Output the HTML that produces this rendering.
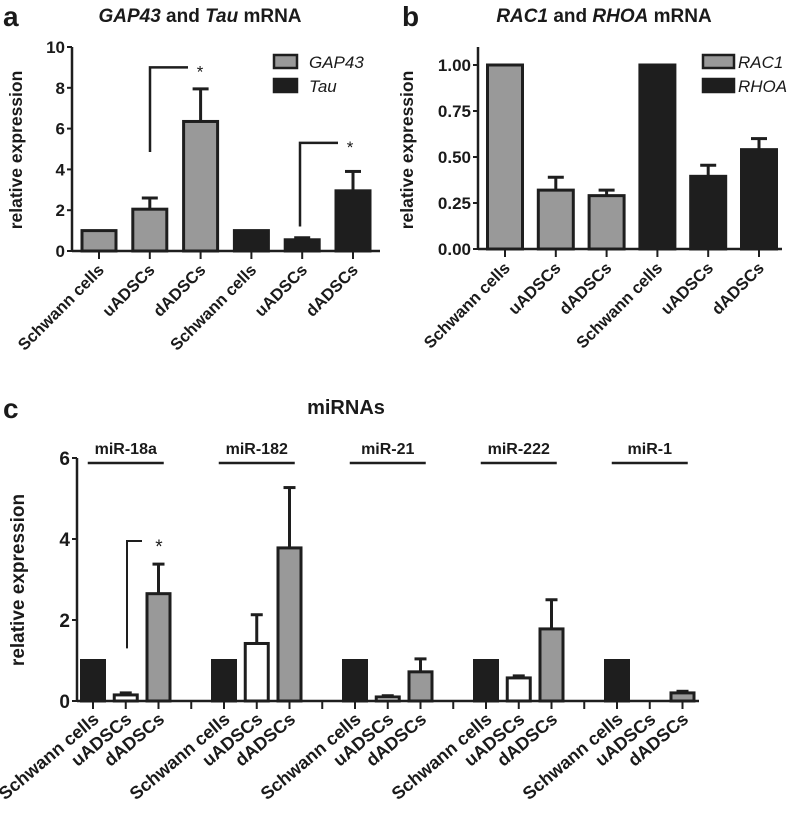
<!DOCTYPE html>
<html><head><meta charset="utf-8"><style>
body{margin:0;background:#fff}
svg text{font-family:"Liberation Sans",Arial,sans-serif;fill:#1a1a1a}
</style></head><body>
<svg id="fig" width="787" height="816" xmlns="http://www.w3.org/2000/svg"></svg>
<script>
// Panel a data
const aCats = ["Schwann cells","uADSCs","dADSCs","Schwann cells","uADSCs","dADSCs"];
const aVals = [1, 2.05, 6.35, 1, 0.55, 2.95];
const aErr  = [null, 2.6, 7.95, null, 0.65, 3.9];
const aTicks = [0,2,4,6,8,10];
// Panel b data
const bCats = ["Schwann cells","uADSCs","dADSCs","Schwann cells","uADSCs","dADSCs"];
const bVals = [1, 0.32, 0.29, 1, 0.395, 0.54];
const bErr  = [null, 0.39, 0.32, null, 0.455, 0.60];
const bTicks = ["0.00","0.25","0.50","0.75","1.00"];
// Panel c data
const cGroups = ["miR-18a","miR-182","miR-21","miR-222","miR-1"];
const cCats = ["Schwann cells","uADSCs","dADSCs"];
const cVals = [[1,0.15,2.65],[1,1.42,3.78],[1,0.1,0.72],[1,0.57,1.78],[1,0,0.2]];
const cErr  = [[null,0.2,3.38],[null,2.13,5.27],[null,0.13,1.04],[null,0.62,2.5],[null,null,0.24]];
const cTicks = [0,2,4,6];

const svg = document.getElementById('fig');
const NS = "http://www.w3.org/2000/svg";
function el(tag, attrs, parent){
  const e = document.createElementNS(NS, tag);
  for (const k in attrs) e.setAttribute(k, attrs[k]);
  (parent||svg).appendChild(e);
  return e;
}
function txt(x,y,s,size,extra,weight){
  const t = el('text', Object.assign({x:x,y:y,'font-size':size,style:'font-weight:'+(weight||'bold')}, extra||{}));
  t.textContent = s; return t;
}
const DARK="#1e1e1e", GRAY="#999999";

function barChart(o){
  const y = v => o.y0 - (v - 0) * o.ppu;
  const ax = el('line',{x1:o.ax,y1:o.yTop,x2:o.ax,y2:o.y0+1,stroke:DARK,'stroke-width':2.5});
  
  
  const xax = el('line',{x1:o.ax,y1:o.y0,x2:o.xEnd,y2:o.y0,stroke:DARK,'stroke-width':2.5});
  
  
  o.ticks.forEach(t=>{
    const v = parseFloat(t);
    el('line',{x1:o.ax-5,y1:y(v),x2:o.ax,y2:y(v),stroke:DARK,'stroke-width':2});
    const tl = txt(o.ax-7,y(v)+6,String(t),17,{'text-anchor':'end'});
    
    
  });
  o.vals.forEach((v,i)=>{
    const cx = o.x0 + i*o.step;
    el('line',{x1:cx,y1:o.y0,x2:cx,y2:o.y0+8,stroke:DARK,'stroke-width':2});
    const fill = i<3 ? GRAY : DARK;
    const r = el('rect',{x:cx-o.bw/2,y:y(v),width:o.bw,height:o.y0-y(v),fill:fill,stroke:DARK,'stroke-width':3});
    
    
    if (o.err[i]!=null){
      el('line',{x1:cx,y1:y(v),x2:cx,y2:y(o.err[i]),stroke:DARK,'stroke-width':3});
      el('line',{x1:cx-8,y1:y(o.err[i]),x2:cx+8,y2:y(o.err[i]),stroke:DARK,'stroke-width':3});
    }
    const lab = txt(0,0,o.cats[i],16.5,{'text-anchor':'end',transform:`translate(${cx+6},${o.y0+20}) rotate(-45)`});
    
    
  });
  return y;
}

// Panel a
txt(3,26,"a",28);
const ta = txt(200,22,"",19,{'text-anchor':'middle'});
ta.innerHTML = '<tspan font-style="italic">GAP43</tspan> and <tspan font-style="italic">Tau</tspan> mRNA';

txt(0,0,"relative expression",17.5,{'text-anchor':'middle',transform:'translate(22,150) rotate(-90)'});
const ya = barChart({id:'panel-a',ax:72,yTop:47,y0:251,ppu:20.4,xEnd:380,x0:99,step:50.8,bw:34,vals:aVals,err:aErr,cats:aCats,ticks:aTicks});
el('polyline',{points:`150,${ya(4.85)} 150,${ya(9)} 188,${ya(9)}`,fill:'none',stroke:DARK,'stroke-width':2.5});
txt(200,ya(9)+10,"*",17,{'text-anchor':'middle'},'normal');
el('polyline',{points:`300,${ya(1.2)} 300,${ya(5.3)} 338,${ya(5.3)}`,fill:'none',stroke:DARK,'stroke-width':2.5});
txt(350,ya(5.3)+10,"*",17,{'text-anchor':'middle'},'normal');
el('rect',{x:274,y:55,width:23,height:13,fill:GRAY,stroke:DARK,'stroke-width':2.5});
el('rect',{x:274,y:79,width:23,height:13,fill:DARK,stroke:DARK,'stroke-width':2.5});
txt(309,68,"GAP43",17,{'font-style':'italic'},'normal');
txt(309,92,"Tau",17,{'font-style':'italic'},'normal');

// Panel b
txt(402,26,"b",28);
const tb = txt(604,22,"",19,{'text-anchor':'middle'});
tb.innerHTML = '<tspan font-style="italic">RAC1</tspan> and <tspan font-style="italic">RHOA</tspan> mRNA';

txt(0,0,"relative expression",17.5,{'text-anchor':'middle',transform:'translate(413,150) rotate(-90)'});
barChart({id:'panel-b',ax:478,yTop:47,y0:249,ppu:184,xEnd:782,x0:505,step:50.8,bw:35,vals:bVals,err:bErr,cats:bCats,ticks:bTicks});
el('rect',{x:703,y:55,width:31,height:13,fill:GRAY,stroke:DARK,'stroke-width':2.5});
el('rect',{x:703,y:79,width:31,height:13,fill:DARK,stroke:DARK,'stroke-width':2.5});
txt(738,68,"RAC1",17,{'font-style':'italic'},'normal');
txt(738,92,"RHOA",17,{'font-style':'italic'},'normal');

// Panel c
txt(3,418,"c",28);
txt(346,414,"miRNAs",20,{'text-anchor':'middle'});
txt(0,0,"relative expression",19,{'text-anchor':'middle',transform:'translate(24,580) rotate(-90)'});
const cy0=701, cppu=40.5, cx0=93, cstep=32.75;
const yc = v => cy0 - v*cppu;
el('line',{x1:77,y1:458,x2:77,y2:cy0+1,stroke:DARK,'stroke-width':2.5});
el('line',{x1:77,y1:cy0,x2:699,y2:cy0,stroke:DARK,'stroke-width':2.5});
cTicks.forEach(t=>{
  el('line',{x1:72,y1:yc(t),x2:77,y2:yc(t),stroke:DARK,'stroke-width':2});
  txt(70,yc(t)+7,String(t),19,{'text-anchor':'end'});
});
for (let k=0;k<19;k++){
  const x = cx0 + k*cstep;
  el('line',{x1:x,y1:cy0,x2:x,y2:cy0+8,stroke:DARK,'stroke-width':2});
}
const cFill = [DARK,"#ffffff",GRAY];
cGroups.forEach((g,gi)=>{
  const center = cx0 + (gi*4+1)*cstep;
  const gl = txt(center,454,g,16,{'text-anchor':'middle'});
  
  
  el('line',{x1:center-38,y1:463,x2:center+38,y2:463,stroke:DARK,'stroke-width':2.5});
  cVals[gi].forEach((v,i)=>{
    const x = cx0 + (gi*4+i)*cstep;
    if (v>0){
      const r = el('rect',{x:x-11.5,y:yc(v),width:23,height:cy0-yc(v),fill:cFill[i],stroke:DARK,'stroke-width':3});
      
      
    }
    const e = cErr[gi][i];
    if (e!=null){
      el('line',{x1:x,y1:yc(v),x2:x,y2:yc(e),stroke:DARK,'stroke-width':3});
      el('line',{x1:x-6,y1:yc(e),x2:x+6,y2:yc(e),stroke:DARK,'stroke-width':3});
    }
    const lab = txt(0,0,cCats[i],18,{'text-anchor':'end',transform:`translate(${x+7},${cy0+20}) rotate(-40)`});
    
    
  });
});
el('polyline',{points:`127,${yc(1.3)} 127,${yc(3.95)} 142,${yc(3.95)}`,fill:'none',stroke:DARK,'stroke-width':2});
txt(159,yc(3.95)+12,"*",19,{'text-anchor':'middle'},'normal');
</script>
</body></html>
